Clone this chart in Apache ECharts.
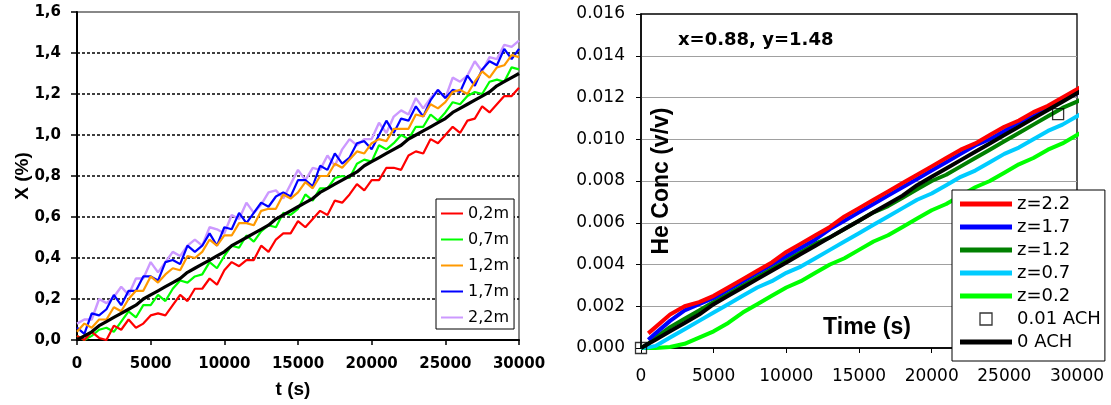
<!DOCTYPE html>
<html>
<head>
<meta charset="utf-8">
<script src="https://cdn.jsdelivr.net/npm/echarts@6.0.0/dist/echarts.min.js"></script>
<style>
html,body{margin:0;padding:0;background:#fff;}
#main{width:1111px;height:405px;}
</style>
</head>
<body>
<div id="main"></div>
<script>
// ---- left panel : measured X (%) at five heights ----
var timeLeft = [0,500,1000,1500,2000,2500,3000,3500,4000,4500,
	5000,5500,6000,6500,7000,7500,8000,8500,9000,9500,
	10000,10500,11000,11500,12000,12500,13000,13500,14000,14500,
	15000,15500,16000,16500,17000,17500,18000,18500,19000,19500,
	20000,20500,21000,21500,22000,22500,23000,23500,24000,24500,
	25000,25500,26000,26500,27000,27500,28000,28500,29000,29500,
	30000];
var x02 = [0.02,0.00,0.04,0.01,0.00,0.07,0.05,0.10,0.06,0.08,
	0.12,0.13,0.12,0.17,0.22,0.19,0.25,0.25,0.30,0.27,
	0.34,0.38,0.36,0.39,0.39,0.46,0.43,0.49,0.52,0.52,
	0.58,0.55,0.59,0.63,0.61,0.68,0.67,0.71,0.76,0.73,
	0.78,0.78,0.84,0.84,0.83,0.90,0.92,0.91,0.98,0.96,
	1.00,1.04,1.01,1.07,1.08,1.14,1.11,1.15,1.19,1.19,
	1.23];
var x07 = [0.02,0.00,0.02,0.05,0.06,0.04,0.09,0.14,0.11,0.17,
	0.17,0.22,0.19,0.25,0.29,0.28,0.31,0.32,0.38,0.35,
	0.41,0.46,0.45,0.51,0.48,0.53,0.56,0.55,0.62,0.61,
	0.64,0.71,0.68,0.74,0.74,0.79,0.80,0.79,0.86,0.88,
	0.87,0.95,0.93,0.96,1.00,0.98,1.04,1.04,1.10,1.07,
	1.11,1.16,1.15,1.19,1.21,1.20,1.26,1.27,1.26,1.33,
	1.32];
var x12 = [0.04,0.08,0.06,0.10,0.10,0.16,0.14,0.20,0.24,0.24,
	0.31,0.28,0.32,0.35,0.34,0.41,0.40,0.43,0.49,0.46,
	0.51,0.51,0.57,0.57,0.56,0.63,0.64,0.64,0.71,0.69,
	0.72,0.77,0.74,0.80,0.80,0.86,0.84,0.88,0.92,0.91,
	0.96,0.98,0.97,1.03,1.03,1.03,1.10,1.09,1.15,1.13,
	1.16,1.21,1.22,1.20,1.26,1.31,1.28,1.33,1.34,1.39,
	1.38];
var x17 = [0.06,0.03,0.13,0.12,0.15,0.22,0.17,0.24,0.24,0.31,
	0.31,0.29,0.38,0.39,0.37,0.46,0.43,0.46,0.52,0.46,
	0.55,0.54,0.62,0.57,0.62,0.67,0.65,0.70,0.72,0.70,
	0.78,0.78,0.75,0.85,0.83,0.91,0.86,0.89,0.96,0.97,
	0.93,1.00,1.07,1.01,1.08,1.07,1.14,1.09,1.17,1.22,
	1.18,1.22,1.21,1.29,1.24,1.32,1.36,1.34,1.42,1.37,
	1.42];
var x22 = [0.08,0.10,0.10,0.20,0.18,0.21,0.26,0.22,0.30,0.30,
	0.38,0.33,0.38,0.43,0.41,0.46,0.49,0.46,0.55,0.54,
	0.52,0.61,0.59,0.67,0.62,0.66,0.72,0.73,0.69,0.76,
	0.83,0.78,0.84,0.83,0.90,0.85,0.93,0.98,0.95,0.98,
	0.98,1.06,1.01,1.09,1.12,1.10,1.18,1.13,1.18,1.22,
	1.18,1.28,1.26,1.29,1.36,1.31,1.38,1.37,1.44,1.43,
	1.46];
var xModel = [0.00,0.02,0.04,0.07,0.09,0.11,0.13,0.15,0.17,0.20,
	0.22,0.24,0.26,0.28,0.30,0.33,0.35,0.37,0.39,0.41,
	0.43,0.46,0.48,0.50,0.52,0.54,0.56,0.59,0.61,0.63,
	0.65,0.67,0.69,0.72,0.74,0.76,0.78,0.80,0.82,0.85,
	0.87,0.89,0.91,0.93,0.95,0.98,1.00,1.02,1.04,1.06,
	1.08,1.11,1.13,1.15,1.17,1.19,1.21,1.24,1.26,1.28,
	1.30];

// ---- right panel : He concentration (v/v) ----
var timeRight = [0,500,1000,2000,3000,4000,5000,6000,7000,8000,9000,
	10000,11000,12000,13000,14000,15000,16000,17000,18000,19000,
	20000,21000,22000,23000,24000,25000,26000,27000,28000,29000,
	30000,30500];
var z22 = [null,0.0007,0.0010,0.0016,0.0020,0.0022,0.0025,0.0029,0.0033,0.0037,0.0041,
	0.0046,0.0050,0.0054,0.0058,0.0063,0.0067,0.0071,0.0075,0.0079,0.0083,
	0.0087,0.0091,0.0095,0.0098,0.0102,0.0106,0.0109,0.0113,0.0116,0.0120,
	0.0124,0.0126];
var z17 = [null,0.0004,0.0007,0.0013,0.0018,0.0021,0.0024,0.0028,0.0032,0.0036,0.0040,
	0.0044,0.0048,0.0052,0.0057,0.0061,0.0065,0.0069,0.0073,0.0077,0.0081,
	0.0085,0.0089,0.0093,0.0097,0.0100,0.0104,0.0108,0.0111,0.0115,0.0119,
	0.0122,0.0124];
var z12 = [0,0.0002,0.0005,0.0010,0.0014,0.0018,0.0022,0.0026,0.0030,0.0034,0.0038,
	0.0042,0.0046,0.0050,0.0053,0.0057,0.0061,0.0065,0.0068,0.0072,0.0076,
	0.0080,0.0083,0.0087,0.0091,0.0095,0.0099,0.0103,0.0107,0.0111,0.0115,
	0.0118,0.0120];
var z07 = [0,0.00003,0.0001,0.0005,0.0009,0.0013,0.0017,0.0021,0.0025,0.0029,0.0032,
	0.0036,0.0039,0.0043,0.0047,0.0051,0.0055,0.0059,0.0063,0.0067,0.0071,
	0.0074,0.0078,0.0082,0.0085,0.0089,0.0093,0.0096,0.0100,0.0104,0.0107,
	0.0111,0.0113];
var z02 = [0,0,0,0.00005,0.0002,0.0005,0.0008,0.0012,0.0017,0.0021,0.0025,
	0.0029,0.0032,0.0036,0.0040,0.0043,0.0047,0.0051,0.0054,0.0058,0.0062,
	0.0066,0.0069,0.0073,0.0077,0.0080,0.0084,0.0088,0.0091,0.0095,0.0098,
	0.0102,0.0104];
var ach0 = [0,0.0002,0.0004,0.0008,0.0012,0.0016,0.0021,0.0025,0.0029,0.0033,0.0037,
	0.0041,0.0045,0.0049,0.0053,0.0057,0.0061,0.0065,0.0069,0.0073,0.0078,
	0.0082,0.0086,0.0090,0.0094,0.0098,0.0102,0.0106,0.0110,0.0114,0.0118,
	0.0122,0.0124];
var achTime = [0, 28700];
var ach001 = [0, 0.0112];

var leftNames = ['0,2m', '0,7m', '1,2m', '1,7m', '2,2m'];

function pairs(xs, ys) {
	var out = [];
	for (var i = 0; i < xs.length; i++) {
		if (ys[i] === null) continue;
		out.push([xs[i], ys[i]]);
	}
	return out;
}

function leftLine(name, data, color, width) {
	return {
		name: name, type: 'line', xAxisIndex: 0, yAxisIndex: 0,
		data: pairs(timeLeft, data), symbol: 'none', showSymbol: false,
		lineStyle: { color: color, width: width }, itemStyle: { color: color }
	};
}

function rightLine(name, data, color) {
	return {
		name: name, type: 'line', xAxisIndex: 1, yAxisIndex: 1,
		data: pairs(timeRight, data), symbol: 'none', showSymbol: false, clip: false,
		lineStyle: { color: color, width: 4 }, itemStyle: { color: color }
	};
}

function plainNumber(v) { return String(v); }

var boldTick = { fontFamily: 'DejaVu Sans', fontWeight: 'bold', fontSize: 15, color: '#000' };
var plainTick = { fontFamily: 'DejaVu Sans', fontSize: 17, color: '#000' };
var lineIcon = 'path://M0,0H52V5H0Z';
var squareIcon = 'path://M0,0H12V12H0Z';

var chart = echarts.init(document.getElementById('main'));
var option = {
	animation: false,
	backgroundColor: '#fff',
	title: {
		text: 'x=0.88, y=1.48', left: 678, top: 31, padding: 0,
		textStyle: { fontFamily: 'DejaVu Sans', fontWeight: 'bold', fontSize: 18, color: '#000' }
	},
	grid: [
		{ left: 77, top: 12, width: 442, height: 328, show: true, borderColor: '#888', borderWidth: 2, outerBoundsMode: 'none' },
		{ left: 641, top: 14, width: 436, height: 334, show: true, borderColor: '#000', borderWidth: 1.3, outerBoundsMode: 'none' }
	],
	legend: [
		{
			data: leftNames, orient: 'vertical', left: 436, top: 199,
			padding: [6, 5, 3, 5], itemWidth: 22, itemHeight: 2, itemGap: 9, icon: 'rect',
			backgroundColor: '#fff', borderColor: '#000', borderWidth: 1, borderRadius: 0,
			selectedMode: false, itemStyle: { borderWidth: 0 },
			textStyle: { fontFamily: 'DejaVu Sans', fontSize: 16, color: '#000', lineHeight: 17 }
		},
		{
			data: [
				{ name: 'z=2.2', icon: lineIcon },
				{ name: 'z=1.7', icon: lineIcon },
				{ name: 'z=1.2', icon: lineIcon },
				{ name: 'z=0.7', icon: lineIcon },
				{ name: 'z=0.2', icon: lineIcon },
				{ name: '0.01 ACH', icon: squareIcon, itemStyle: { color: '#fff', borderColor: '#000', borderWidth: 1.3 } },
				{ name: '0 ACH', icon: lineIcon }
			],
			orient: 'vertical', left: 952, top: 190,
			padding: [5, 4, 10, 8], itemWidth: 52, itemHeight: 12, itemGap: 5, symbolKeepAspect: true,
			backgroundColor: '#fff', borderColor: '#000', borderWidth: 1, borderRadius: 0,
			selectedMode: false, itemStyle: { borderWidth: 0 },
			textStyle: { fontFamily: 'DejaVu Sans', fontSize: 18, color: '#000', lineHeight: 18 }
		}
	],
	xAxis: [
		{
			gridIndex: 0, type: 'value', min: 0, max: 30000, interval: 5000,
			axisLine: { show: true, onZero: false, lineStyle: { color: '#000', width: 2 } },
			axisTick: { show: true, length: 5, lineStyle: { color: '#000', width: 1.5 } },
			axisLabel: Object.assign({ margin: 17, formatter: plainNumber }, boldTick),
			splitLine: { show: false },
			name: 't (s)', nameLocation: 'middle', nameGap: 40, nameMoveOverlap: false,
			nameTextStyle: { fontFamily: 'Liberation Sans', fontWeight: 'bold', fontSize: 19, color: '#000', padding: [0, 10, 0, 0] }
		},
		{
			gridIndex: 1, type: 'value', min: 0, max: 30000, interval: 5000,
			axisLine: { show: true, onZero: false, lineStyle: { color: '#000', width: 1.5 } },
			axisTick: { show: true, length: 5, lineStyle: { color: '#000', width: 1 } },
			axisLabel: Object.assign({ margin: 20, formatter: plainNumber }, plainTick),
			splitLine: { show: false },
			name: 'Time (s)', nameLocation: 'middle', nameGap: -32, nameMoveOverlap: false,
			nameTextStyle: { fontFamily: 'Liberation Sans', fontWeight: 'bold', fontSize: 23, color: '#000', padding: [0, 0, 0, 16] }
		}
	],
	yAxis: [
		{
			gridIndex: 0, type: 'value', min: 0, max: 1.6, interval: 0.2,
			axisLine: { show: true, onZero: false, lineStyle: { color: '#000', width: 2 } },
			axisTick: { show: true, length: 6, lineStyle: { color: '#000', width: 1.5 } },
			axisLabel: Object.assign({
				margin: 16,
				formatter: function (v) { return v.toFixed(1).replace('.', ','); }
			}, boldTick),
			splitLine: { show: true, showMinLine: false, showMaxLine: false, lineStyle: { color: '#000', width: 1.5, type: [3, 2] } },
			name: 'X (%)', nameLocation: 'middle', nameGap: 45, nameMoveOverlap: false,
			nameTextStyle: { fontFamily: 'Liberation Sans', fontWeight: 'bold', fontSize: 19, color: '#000' }
		},
		{
			gridIndex: 1, type: 'value', min: 0, max: 0.016, interval: 0.002,
			axisLine: { show: true, onZero: false, lineStyle: { color: '#000', width: 1.5 } },
			axisTick: { show: true, length: 5, lineStyle: { color: '#000', width: 1 } },
			axisLabel: Object.assign({
				margin: 16,
				formatter: function (v) { return v.toFixed(3); }
			}, plainTick),
			splitLine: { show: true, showMinLine: false, showMaxLine: false, lineStyle: { color: '#a0a0a0', width: 1 } },
			name: 'He Conc (v/v)', nameLocation: 'middle', nameGap: -32, nameMoveOverlap: false,
			nameTextStyle: { fontFamily: 'Liberation Sans', fontWeight: 'bold', fontSize: 23, color: '#000' }
		}
	],
	series: [
		leftLine('2,2m', x22, '#cc99ff', 2.4),
		leftLine('1,7m', x17, '#0000ff', 2.2),
		leftLine('1,2m', x12, '#ff9900', 2.2),
		leftLine('0,7m', x07, '#00ff00', 2.2),
		leftLine('0,2m', x02, '#ff0000', 2.2),
		leftLine('model', xModel, '#000000', 3.2),
		rightLine('z=0.2', z02, '#00ff00'),
		rightLine('z=0.7', z07, '#00ccff'),
		rightLine('z=1.2', z12, '#008000'),
		rightLine('z=1.7', z17, '#0000ff'),
		rightLine('z=2.2', z22, '#ff0000'),
		rightLine('0 ACH', ach0, '#000000'),
		{
			name: '0.01 ACH', type: 'scatter', xAxisIndex: 1, yAxisIndex: 1, z: 5,
			data: pairs(achTime, ach001), symbol: 'rect', symbolSize: 11, clip: false,
			itemStyle: { color: 'rgba(255,255,255,0)', borderColor: '#000', borderWidth: 1.3 }
		}
	]
};
chart.setOption(option);
</script>
</body>
</html>
